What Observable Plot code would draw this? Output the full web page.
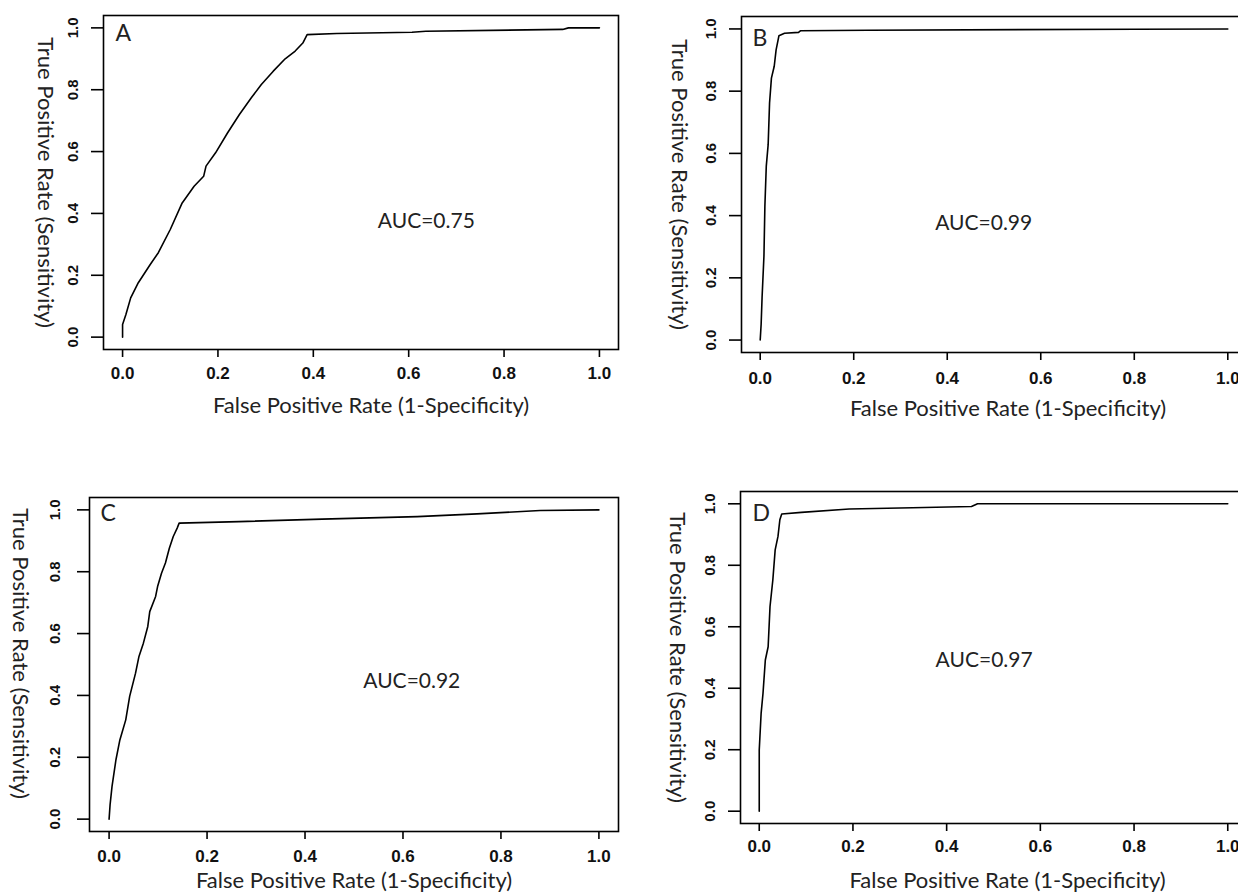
<!DOCTYPE html>
<html>
<head>
<meta charset="utf-8">
<script src="https://cdn.jsdelivr.net/npm/d3@7"></script>
<script src="https://cdn.jsdelivr.net/npm/@observablehq/plot@0.6"></script>
<style>
  html, body { margin: 0; padding: 0; background: #fff; }
  #wrap { position: relative; width: 1238px; height: 895px; overflow: hidden; background: #fff; }
  #wrap svg { position: absolute; overflow: visible; }
</style>
</head>
<body>
<div id="wrap"></div>
<script>
// ---- Data ----
const panelIds = ["A", "B", "C", "D"];
const aucLabels = ["AUC=0.75", "AUC=0.99", "AUC=0.92", "AUC=0.97"];
const xTicks = [0, 0.2, 0.4, 0.6, 0.8, 1.0];
const yTicks = [0, 0.2, 0.4, 0.6, 0.8, 1.0];
const xTitle = "False Positive Rate (1-Specificity)";
const yTitle = "True Positive Rate (Sensitivity)";

const fprA = [0, 0, 0.007, 0.017, 0.033, 0.058, 0.075, 0.100, 0.125, 0.150, 0.170, 0.175, 0.195, 0.220, 0.245, 0.270, 0.291, 0.316, 0.341, 0.362, 0.378, 0.387, 0.449, 0.607, 0.636, 0.923, 0.935, 1];
const tprA = [0, 0.041, 0.073, 0.127, 0.176, 0.235, 0.273, 0.348, 0.434, 0.488, 0.520, 0.553, 0.596, 0.660, 0.720, 0.774, 0.817, 0.860, 0.900, 0.925, 0.951, 0.978, 0.982, 0.986, 0.989, 0.995, 1.0, 1];

const fprB = [0, 0.002, 0.004, 0.008, 0.010, 0.013, 0.017, 0.020, 0.024, 0.030, 0.034, 0.040, 0.052, 0.082, 0.086, 0.230, 0.803, 1];
const tprB = [0, 0.051, 0.137, 0.270, 0.430, 0.559, 0.628, 0.762, 0.842, 0.880, 0.933, 0.978, 0.986, 0.989, 0.994, 0.996, 0.999, 1];

const fprC = [0, 0.002, 0.006, 0.014, 0.022, 0.034, 0.042, 0.054, 0.061, 0.070, 0.079, 0.083, 0.095, 0.099, 0.107, 0.115, 0.123, 0.131, 0.139, 0.143, 0.265, 0.435, 0.629, 0.751, 0.880, 1];
const tprC = [0, 0.046, 0.106, 0.192, 0.256, 0.321, 0.397, 0.472, 0.526, 0.569, 0.623, 0.671, 0.720, 0.752, 0.795, 0.828, 0.876, 0.914, 0.941, 0.957, 0.962, 0.970, 0.978, 0.987, 0.998, 1];

const fprD = [0, 0, 0.004, 0.008, 0.013, 0.019, 0.023, 0.029, 0.034, 0.040, 0.044, 0.048, 0.090, 0.192, 0.327, 0.453, 0.466, 1];
const tprD = [0, 0.199, 0.318, 0.383, 0.492, 0.535, 0.666, 0.752, 0.850, 0.894, 0.948, 0.967, 0.972, 0.983, 0.987, 0.991, 1.0, 1];

const series = [[fprA, tprA], [fprB, tprB], [fprC, tprC], [fprD, tprD]];

// ---- Layout (styling only) ----
const layout = [
  {left: 0,   top: 0,   width: 625, height: 440, mL: 103, mR: 7, mT: 15, mB: 91,
   yTickDx: -30, yTitleDx: -58, yTitleDy: 0, xTitleDx: 10, xTitleDy: 56, tickPad: 9,
   letterDx: 12, letterDy: 9, auc: [0.637, 0.374]},
  {left: 620, top: 0,   width: 626, height: 440, mL: 121, mR: 0, mT: 16, mB: 88,
   yTickDx: -30, yTitleDx: -62, yTitleDy: 0, xTitleDx: 14, xTitleDy: 56, tickPad: 11,
   letterDx: 11, letterDy: 13, auc: [0.478, 0.375]},
  {left: 0,   top: 440, width: 625, height: 455, mL: 89,  mR: 7, mT: 57, mB: 64,
   yTickDx: -34, yTitleDx: -69, yTitleDy: -11, xTitleDx: 0, xTitleDy: 49, tickPad: 10,
   letterDx: 11, letterDy: 7, auc: [0.618, 0.447]},
  {left: 620, top: 440, width: 626, height: 455, mL: 120, mR: 0, mT: 51, mB: 72,
   yTickDx: -30, yTitleDx: -63, yTitleDy: 0, xTitleDx: 14, xTitleDy: 57, tickPad: 8,
   letterDx: 12, letterDy: 13, auc: [0.480, 0.490]}
];

const wrap = document.getElementById("wrap");
const titleFont = "Lato, 'Open Sans', sans-serif";
const tickFont = "'Liberation Sans', Arial, sans-serif";

panelIds.forEach((id, i) => {
  const L = layout[i];
  const [fpr, tpr] = series[i];
  const pts = fpr.map((x, j) => ({fpr: x, tpr: tpr[j]}));
  const svg = Plot.plot({
    width: L.width,
    height: L.height,
    marginLeft: L.mL, marginRight: L.mR, marginTop: L.mT, marginBottom: L.mB,
    x: {domain: [-0.04, 1.04], axis: null},
    y: {domain: [-0.04, 1.04], axis: null},
    style: {background: "white", overflow: "visible", color: "black"},
    marks: [
      Plot.axisX({ticks: xTicks, tickSize: 8, tickPadding: L.tickPad, strokeWidth: 1.6,
        tickFormat: d3.format(".1f"), fontSize: 17, fontWeight: "bold", fontFamily: tickFont,
        fill: "#111", label: null}),
      Plot.axisY({ticks: yTicks, tickSize: 12, strokeWidth: 1.6, tickFormat: () => "", label: null}),
      Plot.text(yTicks, {y: d => d, frameAnchor: "left", dx: L.yTickDx, rotate: -90,
        text: d => d.toFixed(1), fontSize: 15, fontWeight: "bold", fontFamily: tickFont,
        fill: "#111", textAnchor: "middle", lineAnchor: "middle"}),
      Plot.text([yTitle], {frameAnchor: "left", dx: L.yTitleDx, dy: L.yTitleDy, rotate: 90,
        text: d => d, fontSize: 22, fontFamily: titleFont, fill: "#222",
        textAnchor: "middle", lineAnchor: "middle"}),
      Plot.text([xTitle], {frameAnchor: "bottom", dx: L.xTitleDx, dy: L.xTitleDy,
        text: d => d, fontSize: 22, fontFamily: titleFont, fill: "#222",
        textAnchor: "middle", lineAnchor: "middle"}),
      Plot.frame({stroke: "black", strokeWidth: 1.6}),
      Plot.line(pts, {x: "fpr", y: "tpr", stroke: "black", strokeWidth: 1.6, curve: "linear"}),
      Plot.text([aucLabels[i]], {x: () => L.auc[0], y: () => L.auc[1], text: d => d,
        fontSize: 21, fontFamily: titleFont, fill: "#222", textAnchor: "middle", lineAnchor: "middle"}),
      Plot.text([id], {frameAnchor: "top-left", dx: L.letterDx, dy: L.letterDy, text: d => d,
        fontSize: 23, fontFamily: titleFont, fill: "#222", textAnchor: "start", lineAnchor: "top"})
    ]
  });
  svg.style.left = L.left + "px";
  svg.style.top = L.top + "px";
  wrap.appendChild(svg);
});
</script>
</body>
</html>
